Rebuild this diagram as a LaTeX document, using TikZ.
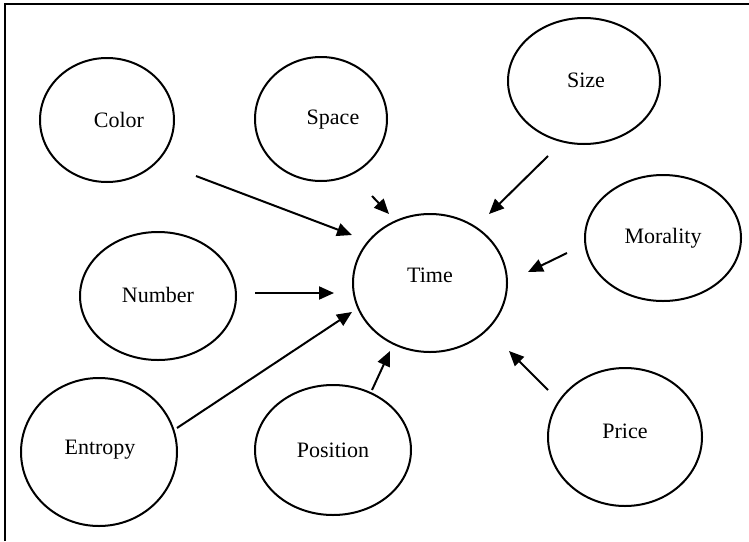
\documentclass[tikz,border=0pt]{standalone}
\usepackage{fontspec}
\setmainfont{Liberation Serif}
\usetikzlibrary{arrows.meta}
\begin{document}
\begin{tikzpicture}[x=1pt,y=-1pt,
  bubble/.style={line width=2pt},
  conn/.style={line width=2pt, -{Triangle[length=15pt,width=13pt]}},
  lbl/.style={font=\fontsize{22}{26}\selectfont}]
\useasboundingbox (0,0) rectangle (749,541);
\draw[line width=2.2pt] (5,541) -- (5,4) -- (749,4);
% ellipses
\draw[bubble] (107,120) ellipse [x radius=67, y radius=62];
\node[lbl] (color) at (119,120) {Color};
\draw[bubble] (321,119) ellipse [x radius=66, y radius=62];
\node[lbl] (space) at (333,120) {Space};
\draw[bubble] (584,81) ellipse [x radius=76, y radius=63];
\node[lbl] (size) at (586,80) {Size};
\draw[bubble] (663,238) ellipse [x radius=78, y radius=63];
\node[lbl] (morality) at (663,238) {Morality};
\draw[bubble] (430,283) ellipse [x radius=77, y radius=69];
\node[lbl] (time) at (430,275) {Time};
\draw[bubble] (158,296) ellipse [x radius=78, y radius=64];
\node[lbl] (number) at (158,295) {Number};
\draw[bubble] (99,452) ellipse [x radius=78, y radius=74];
\node[lbl] (entropy) at (100,450) {Entropy};
\draw[bubble] (333,450) ellipse [x radius=78, y radius=65];
\node[lbl] (position) at (333,450) {Position};
\draw[bubble] (625,437) ellipse [x radius=77, y radius=69];
\node[lbl] (price) at (625,431) {Price};
% arrow endpoints
\coordinate (c1) at (196,176); \coordinate (t1) at (352,235);
\coordinate (c2) at (372,196); \coordinate (t2) at (389,214);
\coordinate (c3) at (548,156); \coordinate (t3) at (489,214);
\coordinate (c4) at (567,253); \coordinate (t4) at (528,272);
\coordinate (c5) at (255,293); \coordinate (t5) at (334,293);
\coordinate (c6) at (177,428); \coordinate (t6) at (352,312);
\coordinate (c7) at (372,390); \coordinate (t7) at (390,351);
\coordinate (c8) at (548,390); \coordinate (t8) at (509,351);
\draw[conn] (c1) -- (t1);
\draw[conn] (c2) -- (t2);
\draw[conn] (c3) -- (t3);
\draw[conn] (c4) -- (t4);
\draw[conn] (c5) -- (t5);
\draw[conn] (c6) -- (t6);
\draw[conn] (c7) -- (t7);
\draw[conn] (c8) -- (t8);
\end{tikzpicture}
\end{document}
